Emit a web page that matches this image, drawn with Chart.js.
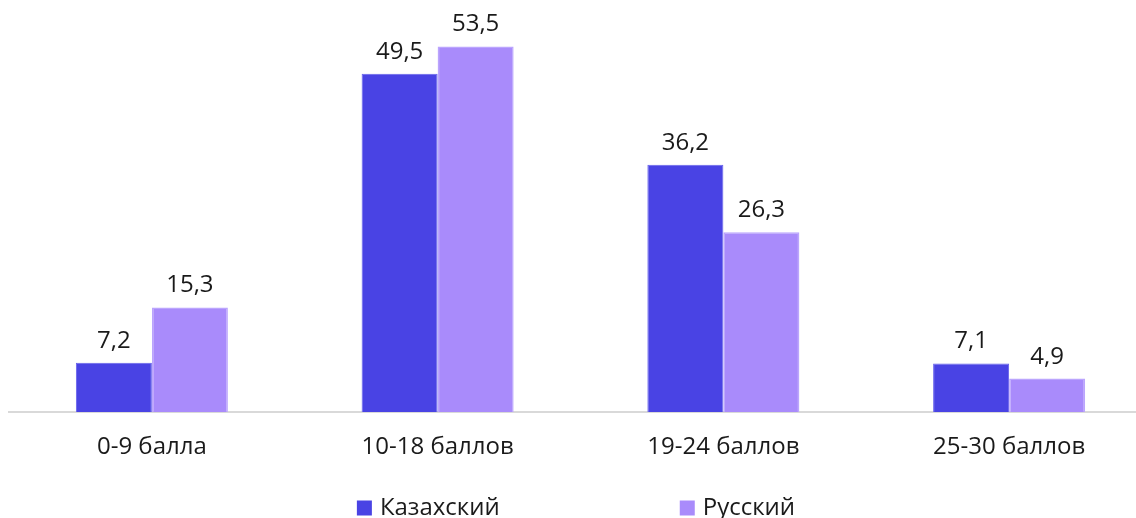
<!DOCTYPE html>
<html lang="ru">
<head>
<meta charset="utf-8">
<title>Распределение баллов</title>
<script src="https://cdn.jsdelivr.net/npm/chart.js@4.4.1/dist/chart.umd.min.js"></script>
<style>
  html, body { margin: 0; padding: 0; background: #ffffff; overflow: hidden; }
  #wrap { width: 1136px; height: 518px; overflow: hidden; }
  canvas { display: block; }
</style>
</head>
<body>
<div id="wrap"><canvas id="chart" width="1152" height="518"></canvas></div>
<script>
// Score bands
const categories = ['0-9 балла', '10-18 баллов', '19-24 баллов', '25-30 баллов'];
// Share of students, %
const kazakhValues = [7.2, 49.5, 36.2, 7.1];
const russianValues = [15.3, 53.5, 26.3, 4.9];
const seriesNames = ['Казахский', 'Русский'];

const FONT = '"Open Sans", "Noto Sans", sans-serif';
const TEXT = '#1a1a1a';

// Values printed above each bar, with a decimal comma
const valueLabels = {
  id: 'valueLabels',
  afterDatasetsDraw(chart) {
    const ctx = chart.ctx;
    ctx.save();
    ctx.font = '24px ' + FONT;
    ctx.fillStyle = TEXT;
    ctx.textAlign = 'center';
    ctx.textBaseline = 'alphabetic';
    chart.data.datasets.forEach((ds, di) => {
      chart.getDatasetMeta(di).data.forEach((bar, i) => {
        const txt = String(ds.data[i]).replace('.', ',');
        ctx.fillText(txt, bar.x, bar.y - 15);
      });
    });
    ctx.restore();
  }
};

// Legend row under the axis: square swatch + series name
const bottomLegend = {
  id: 'bottomLegend',
  afterDraw(chart) {
    const ctx = chart.ctx;
    const box = 15, gap = 8, spacing = 180;
    ctx.save();
    ctx.font = '24px ' + FONT;
    ctx.textBaseline = 'middle';
    ctx.textAlign = 'left';
    const items = chart.data.datasets.map(ds => ({
      label: ds.label, color: ds.backgroundColor, w: box + gap + ctx.measureText(ds.label).width
    }));
    const total = items.reduce((s, it) => s + it.w, 0) + spacing * (items.length - 1);
    let x = chart.width / 2 - total / 2;
    const cy = 508;
    items.forEach(it => {
      ctx.fillStyle = it.color;
      ctx.fillRect(x, cy - box / 2, box, box);
      ctx.fillStyle = TEXT;
      ctx.fillText(it.label, x + box + gap, cy);
      x += it.w + spacing;
    });
    ctx.restore();
  }
};

new Chart(document.getElementById('chart'), {
  type: 'bar',
  data: {
    labels: categories,
    datasets: [
      {
        label: seriesNames[0],
        data: kazakhValues,
        backgroundColor: '#4943e4',
        borderColor: '#6560ec',
        borderWidth: 1
      },
      {
        label: seriesNames[1],
        data: russianValues,
        backgroundColor: '#a98bfb',
        borderColor: '#bba5fd',
        borderWidth: 1.5
      }
    ]
  },
  options: {
    responsive: false,
    animation: false,
    events: [],
    layout: { padding: { top: 2, left: 9, right: 0, bottom: 36 } },
    datasets: { bar: { categoryPercentage: 0.532, barPercentage: 1.0 } },
    plugins: { legend: { display: false }, tooltip: { enabled: false } },
    scales: {
      x: {
        grid: { display: false, drawTicks: false },
        border: { display: true, color: '#d9d9d9', width: 2 },
        ticks: { color: TEXT, font: { family: FONT, size: 24 }, padding: 20.6 }
      },
      y: { display: false, min: 0, max: 60 }
    }
  },
  plugins: [valueLabels, bottomLegend]
});
</script>
</body>
</html>
